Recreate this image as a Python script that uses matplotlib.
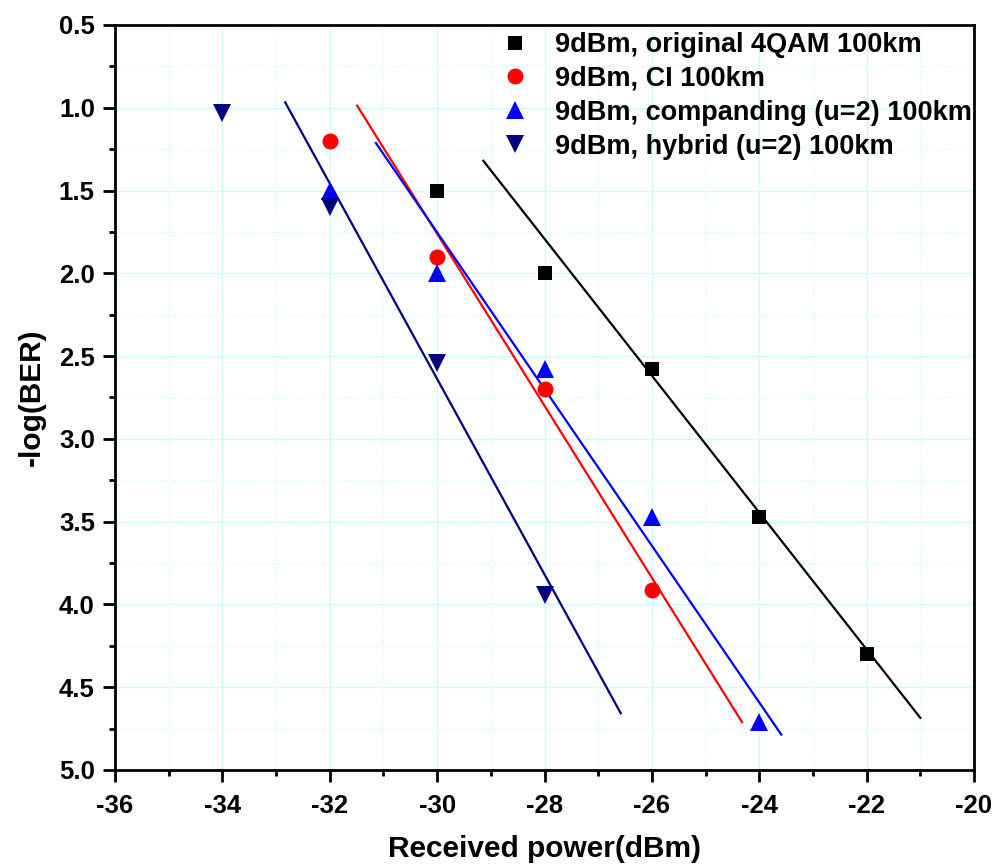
import matplotlib
matplotlib.use("Agg")
import matplotlib.pyplot as plt
from matplotlib.ticker import MultipleLocator

plt.rcParams['font.family'] = ['Liberation Sans', 'DejaVu Sans']
plt.rcParams['font.weight'] = 'bold'
plt.rcParams['axes.unicode_minus'] = False

# Measured points
x_orig = [-30, -28, -26, -24, -22]
y_orig = [1.50, 2.00, 2.58, 3.47, 4.30]
x_ci = [-32, -30, -28, -26]
y_ci = [1.20, 1.90, 2.70, 3.91]
x_comp = [-32, -30, -28, -26, -24]
y_comp = [1.50, 2.00, 2.58, 3.47, 4.71]
x_hyb = [-34, -32, -30, -28]
y_hyb = [1.03, 1.60, 2.54, 3.94]

# Fit lines (endpoints)
fit_x_orig = [-29.14, -21.0]
fit_y_orig = [1.32, 4.685]
fit_x_ci = [-31.49, -24.32]
fit_y_ci = [0.987, 4.711]
fit_x_comp = [-31.14, -23.59]
fit_y_comp = [1.213, 4.786]
fit_x_hyb = [-32.83, -26.58]
fit_y_hyb = [0.967, 4.657]

labels = ["9dBm, original 4QAM 100km", "9dBm, CI 100km",
          "9dBm, companding (u=2) 100km", "9dBm, hybrid (u=2) 100km"]
colors = ["black", "#ff0000", "#0000ff", "#000080"]
markers = ["s", "o", "^", "v"]
msizes = [10, 11.5, 13, 13]

fig = plt.figure(figsize=(9.98, 8.64), dpi=100)
ax = fig.add_axes([115/998, 1-770/864, (974-115)/998, (770-25)/864])

series = [(x_orig, y_orig, fit_x_orig, fit_y_orig),
          (x_ci, y_ci, fit_x_ci, fit_y_ci),
          (x_comp, y_comp, fit_x_comp, fit_y_comp),
          (x_hyb, y_hyb, fit_x_hyb, fit_y_hyb)]

for (xs, ys, fx, fy), c, m, ms, lab in zip(series, colors, markers, msizes, labels):
    ax.plot(fx, fy, color=c, lw=1.6, zorder=3)
    ax.plot(xs, ys, linestyle='none', marker=m, color=c, markersize=ms,
            markeredgewidth=0, label=lab, zorder=4)

ax.set_xlim(-36, -20)
ax.set_ylim(5.0, 0.5)
ax.xaxis.set_major_locator(MultipleLocator(2))
ax.xaxis.set_minor_locator(MultipleLocator(1))
ax.yaxis.set_major_locator(MultipleLocator(0.5))
ax.yaxis.set_minor_locator(MultipleLocator(0.25))

ax.grid(which='major', color='#ccffff', lw=1.0, linestyle='-', zorder=0)
ax.grid(which='minor', color='#ccffff', lw=1.0, linestyle=':', zorder=0)
ax.set_axisbelow(True)

for s in ax.spines.values():
    s.set_linewidth(2)
ax.tick_params(which='major', direction='out', length=8.5, width=2, labelsize=18.5)
ax.tick_params(axis='x', which='major', pad=9)
ax.tick_params(axis='y', which='major', pad=6)
ax.tick_params(which='minor', direction='out', length=4.5, width=2)

ax.set_xlabel("Received power(dBm)", fontsize=21.5, fontweight='bold', labelpad=12)
ax.set_ylabel("-log(BER)", fontsize=21.5, fontweight='bold', labelpad=9)

for lab in ax.get_xticklabels() + ax.get_yticklabels():
    lab.set_fontweight('bold')

leg = ax.legend(loc='upper right', frameon=False, fontsize=19.5,
                handletextpad=1.0, labelspacing=0.29, handlelength=1.0,
                borderpad=0.0, borderaxespad=0.0,
                bbox_to_anchor=((972-115)/859, 1 - 7/745))

fig.savefig("out.png", dpi=100)
